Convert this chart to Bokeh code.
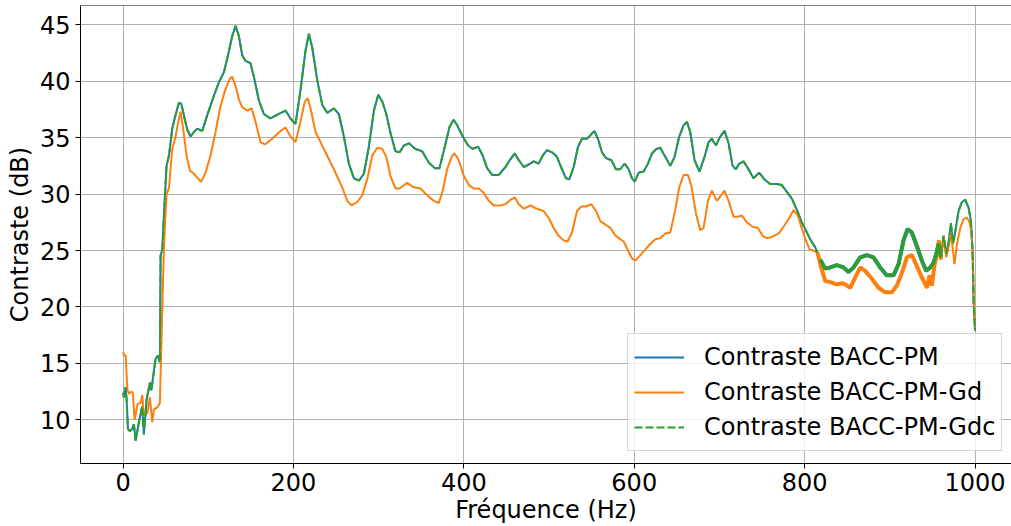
from bokeh.plotting import figure
from bokeh.models import Range1d, Legend, LegendItem, FixedTicker, Span
from bokeh.embed import file_html
from bokeh.resources import INLINE

# ---- data ----
freq_pm = [0, 1, 2.9, 4.1, 5.7, 8.0, 10.7, 12.7, 14.7, 18.6, 22.5, 24.4, 27.6, 31.5, 33.1, 35.4, 38.1, 40.8, 43.2,
           44.0, 46, 47.9, 51, 53.8, 57.7, 61.6, 65.5, 68.3, 71.3, 75.3, 79.2, 83.1, 87, 92.9, 98.8, 106.5, 112.4,
           118.3, 122.2, 128.1, 132, 135.9, 139.8, 143.7, 149.6, 153.5, 159.4, 165.2, 173, 182.8, 190.6, 196.5,
           202.4, 208.2, 214.1, 218, 222, 227.9, 233.8, 239.6, 247.4, 253.3, 259.2, 265, 270.9, 276.8, 282.6,
           288.5, 294.4, 299.5, 304.2, 308.9, 313.9, 319.7, 324.6, 329.5, 335.4, 343.2, 351, 358.8, 365.8, 371.3,
           377.6, 383, 387.8, 392.1, 398.7, 405, 410.5, 416.8, 422.2, 427.3, 433.2, 441, 448.8, 454.7, 459.8,
           464.5, 470.4, 478, 481.9, 487.8, 492.5, 497.6, 503.5, 509.3, 515.2, 519.9, 523.8, 528.9, 534, 538.7,
           544.5, 548.4, 553.1, 557.4, 562.1, 566.8, 573.1, 578.5, 583.6, 588.7, 593.4, 597.3, 600.5, 605.2, 611,
           616.1, 620.8, 625.9, 630.6, 635.7, 642.3, 647.3, 652.8, 657.9, 661.8, 665.7, 670.8, 676.6, 682.5,
           687.2, 691.1, 695.8, 700.9, 706, 710.7, 715.4, 719.3, 723.2, 728.3, 734.1, 740, 746.6, 752.9, 759.5,
           767.4, 773.2, 779.1, 785, 790.9, 796, 802, 806.5, 812.3, 818.2, 824.1, 830, 837.8, 845.6, 851.5, 857.4,
           865.2, 873, 880.8, 888.6, 896.5, 904.3, 910.2, 916.1, 920.8, 925.8, 931.7, 937.6, 942.7, 947.4, 951.3,
           954.5, 957.2, 959.9, 963.1, 966.2, 969, 971.7, 974.1, 976.8, 980.7, 984.6, 988.5, 992.4, 995.2, 997.1,
           998.3, 1000]
contraste_pm = [12.4, 12.0, 12.9, 11.8, 9.2, 9.0, 9.2, 9.6, 8.15, 9.8, 11.2, 8.7, 11.8, 13.3, 12.6, 13.9, 15.4, 15.7,
                15.1, 24.55, 25.1, 28.1, 32.5, 33.4, 35.8, 37.0, 38.1, 38.0, 37.0, 35.7, 35.1, 35.5, 35.8, 35.6, 37.0,
                38.7, 39.9, 40.8, 42.0, 44.0, 44.9, 44.0, 42.3, 41.8, 41.6, 40.4, 38.3, 37.1, 36.7, 37.1, 37.4, 36.7,
                36.2, 39.2, 42.7, 44.2, 43.0, 40.1, 37.9, 37.2, 37.6, 37.1, 35.1, 32.7, 31.4, 31.2, 31.8, 34.2, 37.4,
                38.8, 38.2, 37.1, 35.4, 33.8, 33.7, 34.3, 34.5, 34.0, 33.8, 32.8, 32.3, 32.3, 34.2, 35.9, 36.6, 36.1,
                35.1, 34.3, 34.0, 34.2, 33.4, 32.3, 31.7, 31.7, 32.4, 33.1, 33.6, 33.0, 32.4, 32.7, 32.9, 32.7, 33.4,
                33.9, 33.7, 33.3, 32.2, 31.4, 31.3, 32.4, 34.2, 34.9, 34.9, 35.2, 35.6, 34.9, 33.7, 33.2, 33.0, 32.2,
                32.2, 32.7, 32.2, 31.4, 31.1, 31.9, 32.0, 32.7, 33.6, 34.0, 34.1, 33.4, 32.5, 33.3, 35.1, 36.1, 36.4,
                35.5, 33.0, 32.0, 33.3, 34.6, 34.9, 34.3, 35.1, 35.6, 34.5, 32.5, 32.2, 32.7, 32.9, 32.2, 31.4, 31.9,
                31.3, 30.9, 30.9, 30.8, 30.2, 29.6, 28.6, 27.6, 26.7, 26.0, 25.3, 24.2, 23.4, 23.5, 23.7, 23.5, 23.1,
                23.5, 24.4, 24.6, 24.4, 23.5, 22.8, 22.8, 23.8, 25.9, 26.9, 26.6, 25.4, 24.1, 23.2, 23.5, 23.9, 24.7,
                25.6, 24.4, 26.3, 24.7, 25.7, 27.4, 25.6, 26.7, 28.5, 29.3, 29.5, 28.8, 27.6, 25.0, 20.5, 17.9]

freq_gd = [0, 1.5, 3, 5, 7, 9.5, 11.5, 13.5, 17, 20.5, 22.5, 24.4, 28.4, 31.5, 34.2, 36.2, 40, 43.2, 44.8, 47.9, 51,
           53.8, 57.7, 61.6, 64.7, 67.5, 70.5, 74.5, 78.4, 83.1, 87.8, 91.7, 96.8, 102.6, 108.5, 114.4, 120.2, 125.3,
           128, 132, 135.9, 139.8, 145.7, 150.8, 155.5, 161.3, 166.4, 175, 184.8, 190.6, 196.5, 202.4, 208.2, 213.3,
           216.8, 220, 225.9, 231.7, 239.6, 247.4, 257.2, 263.1, 268.2, 274.8, 280.7, 286.5, 292.4, 298.3, 304.2,
           309, 313.8, 319.7, 324.6, 333.4, 341.2, 349.1, 356.9, 364.7, 370.5, 375.2, 380.3, 386.2, 389.3, 394,
           399.9, 405.8, 411.6, 417.5, 423.4, 429.2, 435.1, 442.9, 448.8, 454.7, 459.8, 464.5, 470.4, 478, 485.8,
           493.6, 499.5, 505.4, 511.3, 517.1, 521.8, 526.9, 532.8, 537.9, 543.4, 549.6, 555.1, 560.2, 566.1, 572,
           577.1, 581.8, 587.6, 592.7, 597.4, 601.3, 607.2, 613.1, 618.9, 624.8, 630.7, 636.5, 642.3, 648.1, 652.8,
           657.9, 663, 666.9, 672.4, 677.4, 681.4, 686.5, 691.1, 697, 702.1, 706, 710.7, 716.6, 721.7, 726.4, 732.2,
           738.9, 745.1, 750.6, 755.7, 761.6, 769.4, 775.3, 781.2, 787, 792.1, 796.8, 801, 805.7, 810.4, 815.1, 819,
           824.1, 830, 837.8, 843.7, 847.6, 853.5, 859.3, 865.2, 871.1, 878.9, 886.8, 894.6, 902.4, 908.3, 914.2,
           920, 925.9, 931.8, 936.5, 940.4, 943.6, 946.7, 949.4, 952.2, 955.3, 957.7, 960, 963.1, 966.2, 969, 971.7,
           974.1, 976, 978.8, 982.7, 986.6, 990.5, 993.6, 996, 997.5, 998.7, 1000]
contraste_gd = [16.0, 15.7, 15.7, 12.7, 12.3, 12.5, 12.4, 10.0, 11.4, 11.5, 12.2, 10.3, 10.6, 12.0, 9.8, 10.9, 11.1,
                11.5, 16.3, 25.2, 30.0, 30.5, 34.0, 35.1, 36.4, 37.3, 35.8, 33.4, 32.1, 31.8, 31.4, 31.1, 31.9, 33.4,
                35.5, 37.8, 39.3, 40.2, 40.4, 39.6, 38.4, 37.7, 37.4, 37.6, 36.4, 34.6, 34.4, 34.9, 35.6, 35.9, 35.1,
                34.6, 36.4, 38.2, 38.5, 37.6, 35.5, 34.6, 33.4, 32.2, 30.6, 29.4, 29.0, 29.3, 29.9, 31.3, 33.4, 34.1,
                34.0, 33.3, 31.6, 30.5, 30.5, 31.0, 30.6, 30.5, 29.9, 29.4, 29.2, 30.3, 32.2, 33.4, 33.6, 33.0, 31.6,
                30.8, 30.5, 30.5, 30.1, 29.4, 29.0, 29.0, 29.1, 29.5, 29.7, 29.1, 28.7, 29.0, 28.7, 28.5, 27.9, 27.0,
                26.3, 25.9, 25.8, 26.6, 28.5, 28.9, 28.9, 29.1, 28.5, 27.6, 27.3, 27.0, 26.4, 26.1, 25.8, 25.0, 24.3,
                24.1, 24.6, 25.1, 25.6, 26.0, 26.1, 26.5, 26.6, 28.6, 30.6, 31.7, 31.7, 30.8, 28.3, 26.8, 27.0, 29.4,
                30.3, 29.4, 29.9, 30.3, 29.4, 28.0, 28.0, 28.1, 27.5, 27.1, 27.0, 26.3, 26.1, 26.2, 26.5, 27.1, 27.8,
                28.6, 28.1, 26.9, 26.0, 25.1, 25.0, 24.8, 23.6, 22.3, 22.2, 22.0, 22.1, 22.0, 21.7, 22.6, 23.5, 23.2,
                22.5, 21.7, 21.3, 21.3, 21.9, 23.0, 24.4, 24.6, 23.6, 22.8, 22.2, 21.7, 22.8, 21.9, 23.6, 24.7, 25.9,
                24.2, 26.3, 24.4, 25.3, 26.6, 25.0, 23.8, 25.6, 27.0, 27.8, 27.9, 27.5, 26.4, 24.1, 20.5, 18.2]

series_labels = ["Contraste BACC-PM", "Contraste BACC-PM-Gd", "Contraste BACC-PM-Gdc"]
x_ticks = [0, 200, 400, 600, 800, 1000]
y_ticks = [10, 15, 20, 25, 30, 35, 40, 45]

FONT = "DejaVu Sans"
BLUE, ORANGE, GREEN = "#1f77b4", "#ff7f0e", "#2ca02c"
Y_TOP = 46.71

p = figure(width=1011, height=526, output_backend="svg", toolbar_location=None,
           x_range=Range1d(-50, 1042.8), y_range=Range1d(6.13, Y_TOP),
           min_border_left=80, min_border_right=0, min_border_top=5, min_border_bottom=63)
p.background_fill_color = "white"
p.border_fill_color = "white"
p.outline_line_color = None

r_pm = p.line(freq_pm, contraste_pm, line_color=BLUE, line_width=2)
r_gd = p.line(freq_gd, contraste_gd, line_color=ORANGE, line_width=2)
r_gdc = p.line(freq_pm, contraste_pm, line_color=GREEN, line_width=2, line_dash="8 3")

# dense ripple band (815-960 Hz) appears thicker in the reference
def band(fx, fy, lo=815, hi=962):
    pts = [(a, b) for a, b in zip(fx, fy) if lo <= a <= hi]
    return [a for a, _ in pts], [b for _, b in pts]

bx, by = band(freq_pm, contraste_pm)
gx, gy = band(freq_gd, contraste_gd)
p.line(bx, by, line_color=BLUE, line_width=4)
p.line(gx, gy, line_color=ORANGE, line_width=4)
p.line(bx, by, line_color=GREEN, line_width=3.5)

# top spine (right spine lies outside the visible area in the reference)
p.add_layout(Span(location=Y_TOP, dimension="width", line_color="black", line_width=1))

p.xaxis.ticker = FixedTicker(ticks=x_ticks)
p.yaxis.ticker = FixedTicker(ticks=y_ticks)
for ax in (p.xaxis[0], p.yaxis[0]):
    ax.major_label_text_font = FONT
    ax.major_label_text_font_size = "24px"
    ax.major_label_text_color = "black"
    ax.axis_label_text_font = FONT
    ax.axis_label_text_font_size = "24px"
    ax.axis_label_text_font_style = "normal"
    ax.axis_label_text_color = "black"
    ax.major_tick_in = 0
    ax.major_tick_out = 5
    ax.minor_tick_in = 0
    ax.minor_tick_out = 0
    ax.axis_line_color = "black"
    ax.major_tick_line_color = "black"
p.xaxis.axis_label = "Fréquence (Hz)"
p.yaxis.axis_label = "Contraste (dB)"
p.xaxis.major_label_standoff = 4
p.yaxis.major_label_standoff = 5
p.xaxis.axis_label_standoff = 2
p.yaxis.axis_label_standoff = 3

p.grid.grid_line_color = "#b0b0b0"
p.grid.grid_line_width = 1

legend = Legend(items=[LegendItem(label=series_labels[0], renderers=[r_pm]),
                       LegendItem(label=series_labels[1], renderers=[r_gd]),
                       LegendItem(label=series_labels[2], renderers=[r_gdc])],
                location=(547, 12))
legend.label_text_font = FONT
legend.label_text_font_size = "24px"
legend.label_text_color = "black"
legend.glyph_width = 50
legend.glyph_height = 34
legend.label_height = 34
legend.label_standoff = 20
legend.spacing = 1
legend.padding = 6
legend.margin = 0
legend.background_fill_color = "white"
legend.background_fill_alpha = 0.8
legend.border_line_color = "#cccccc"
legend.border_line_alpha = 0.8
legend.border_line_width = 1
p.add_layout(legend)

open("out.html", "w").write(file_html(p, INLINE))
